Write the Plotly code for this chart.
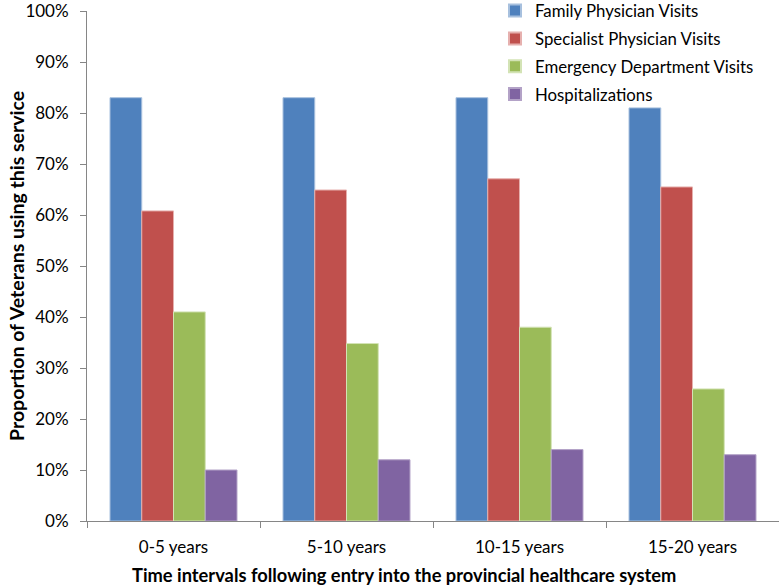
import plotly.graph_objects as go

categories = ["0-5 years", "5-10 years", "10-15 years", "15-20 years"]
family = [0.83, 0.83, 0.83, 0.81]
specialist = [0.608, 0.649, 0.671, 0.655]
emergency = [0.41, 0.348, 0.38, 0.259]
hospital = [0.10, 0.12, 0.14, 0.13]
series_names = ["Family Physician Visits", "Specialist Physician Visits",
                "Emergency Department Visits", "Hospitalizations"]
colors = ["#4F81BD", "#C0504D", "#9BBB59", "#8064A2"]
edge = ["#A7C0DE", "#E6B0AE", "#D3E3B5", "#B3A2C7"]
x_title = "Time intervals following entry into the provincial healthcare system"
y_title = "Proportion of Veterans using this service"

FONT = "Lato"
fig = go.Figure()
for i, (name, vals, c, e) in enumerate(zip(series_names, [family, specialist, emergency, hospital], colors, edge)):
    fig.add_trace(go.Bar(x=categories, y=vals, name=name, legendgroup=f"g{i}",
                         marker=dict(color=c, line=dict(color=e, width=1))))

fig.update_layout(
    width=779, height=585,
    margin=dict(l=87, r=0, t=11, b=64, autoexpand=False),
    paper_bgcolor="white", plot_bgcolor="white",
    barmode="group", bargap=0.266, bargroupgap=0,
    font=dict(family=FONT, size=17, color="black"),
    legend=dict(x=0.5896, y=1.035, xanchor="left", yanchor="top",
                bgcolor="rgba(0,0,0,0)", font=dict(size=16.8),
                tracegroupgap=3, itemsizing="constant"),
    xaxis=dict(showline=True, linecolor="#868686", linewidth=1, automargin=False,
               ticks="outside", tickson="boundaries", ticklen=6, tickcolor="#868686",
               tickfont=dict(size=17), ticklabelstandoff=11),
    yaxis=dict(range=[0, 1], dtick=0.1, tickformat=".0%", showgrid=False, automargin=False,
               showline=True, linecolor="#868686", linewidth=1,
               ticks="outside", ticklen=6, tickcolor="#868686",
               tickfont=dict(size=17), zeroline=False, ticklabelstandoff=8,
               ticklabeloverflow="allow"),
    annotations=[
        dict(text=f"<b>{x_title}</b>", x=0.458, y=-0.1059, xref="paper", yref="paper",
             xanchor="center", yanchor="middle", showarrow=False, font=dict(size=18.3)),
        dict(text=f"<b>{y_title}</b>", x=-0.1026, y=0.5, xref="paper", yref="paper",
             xanchor="center", yanchor="middle", showarrow=False, textangle=-90,
             font=dict(size=19.5)),
    ],
)
fig.write_html("out.html", config={"displayModeBar": False},
               post_script="document.body.style.margin='0';document.body.style.padding='0';")
